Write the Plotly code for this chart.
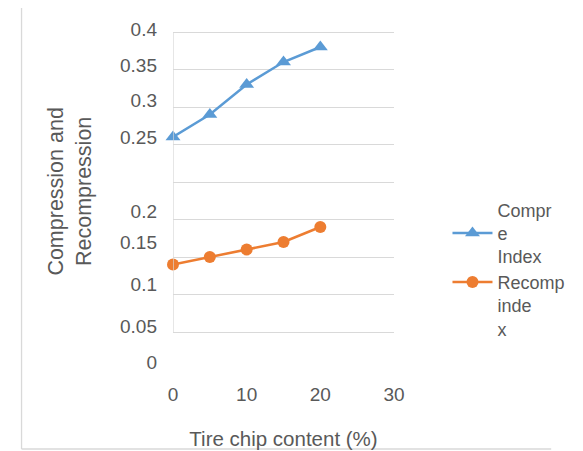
import plotly.graph_objects as go

# ---- data ----
tire_chip = [0, 5, 10, 15, 20]
compression_index = [0.26, 0.29, 0.33, 0.36, 0.38]
recompression_index = [0.09, 0.10, 0.11, 0.12, 0.14]

x_ticks = [0, 10, 20, 30]
y_grid = [0, 0.05, 0.1, 0.15, 0.2, 0.25, 0.3, 0.35, 0.4]
y_tick_text = ["0", "0.05", "0.1", "0.15", "0.2", "0.25", "0.3", "0.35", "0.4"]
# where the (displaced) tick labels sit, in axis units
y_tick_label_pos = [-0.040, 0.008, 0.063, 0.119, 0.161, 0.260, 0.309, 0.356, 0.403]

FONT = "Liberation Sans, Arial, sans-serif"
GRAY = "#595959"
GRID = "#d9d9d9"
BLUE = "#5B9BD5"
ORANGE = "#ED7D31"

y_range = [-0.0493, 0.4107]

fig = go.Figure()
fig.add_trace(go.Scatter(
    x=tire_chip, y=compression_index, mode="lines+markers",
    name="Compr<br>e<br>Index",
    line=dict(color=BLUE, width=2.5),
    marker=dict(symbol="triangle-up", size=13, color=BLUE),
    cliponaxis=False, legend="legend",
))
fig.add_trace(go.Scatter(
    x=tire_chip, y=recompression_index, mode="lines+markers",
    name="Recomp<br>inde<br>x",
    line=dict(color=ORANGE, width=2.5),
    marker=dict(symbol="circle", size=12, color=ORANGE),
    cliponaxis=False, legend="legend2",
))
# invisible trace to carry the tick-label axis
fig.add_trace(go.Scatter(x=[None], y=[None], yaxis="y2", showlegend=False,
                         hoverinfo="skip"))

fig.update_layout(
    width=575, height=443,
    margin=dict(l=165, r=178, t=16, b=82),
    paper_bgcolor="white", plot_bgcolor="white",
    font=dict(family=FONT, color=GRAY, size=19),
    xaxis=dict(
        range=[0, 30], tickvals=x_ticks, showgrid=False, zeroline=False,
        showline=False, ticklabelstandoff=12, automargin=False,
        tickfont=dict(size=19, color=GRAY),
        title=dict(text="Tire chip content (%)", font=dict(size=20.5, color=GRAY),
                   standoff=27),
    ),
    yaxis=dict(
        range=y_range, tickvals=y_grid, showticklabels=False,
        showgrid=True, gridcolor=GRID, gridwidth=1.3, zeroline=False,
        showline=False, automargin=False,
    ),
    yaxis2=dict(
        range=y_range, overlaying="y", side="left", anchor="x",
        tickvals=y_tick_label_pos, ticktext=y_tick_text,
        showgrid=False, zeroline=False, showline=False, automargin=False,
        ticklabelstandoff=15, tickfont=dict(size=19, color=GRAY),
    ),
    legend=dict(x=1.242, y=0.515, xanchor="left", yanchor="top",
                font=dict(size=18, color=GRAY), itemwidth=40,
                valign="middle", bgcolor="rgba(0,0,0,0)"),
    legend2=dict(x=1.242, y=0.305, xanchor="left", yanchor="top",
                 font=dict(size=18, color=GRAY), itemwidth=40,
                 valign="top", bgcolor="rgba(0,0,0,0)"),
    annotations=[dict(
        text="Compression and<br>Recompression", textangle=-90,
        xref="paper", yref="paper", x=-0.4655, y=0.5145,
        xanchor="center", yanchor="middle", showarrow=False, align="center",
        font=dict(size=21.5, color=GRAY),
    )],
    shapes=[
        dict(type="line", xref="x", yref="y", x0=0, x1=0, y0=0, y1=0.4,
             line=dict(color=GRID, width=1.3)),
        dict(type="line", xref="paper", yref="paper", x0=-0.6853, x1=-0.6853,
             y0=-0.2319, y1=1.0493, line=dict(color=GRID, width=1.3)),
        dict(type="line", xref="paper", yref="paper", x0=-0.6853, x1=1.7112,
             y0=-0.2319, y1=-0.2319, line=dict(color=GRID, width=1.3)),
    ],
)

fig.write_html("out.html")
